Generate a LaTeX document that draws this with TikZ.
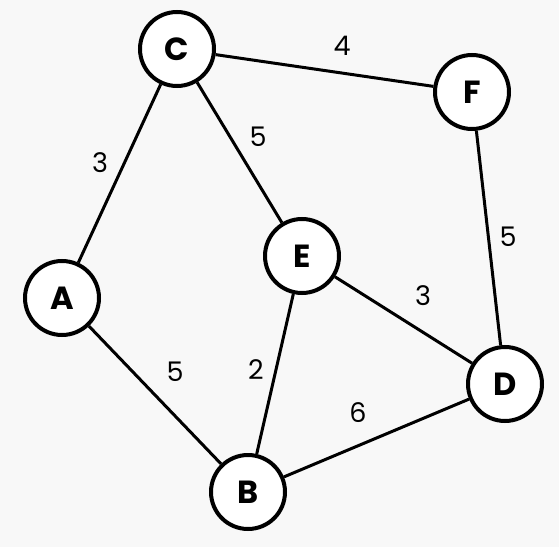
\documentclass[tikz,border=0pt]{standalone}
\usepackage{fontspec}
\setmainfont{Poppins}
\begin{document}
\begin{tikzpicture}[x=1pt,y=1pt,
  vertex/.style={circle,draw=black,line width=4pt,fill=white,minimum size=74pt,inner sep=0pt,font=\fontsize{32}{32}\selectfont\bfseries},
  edge/.style={line width=3pt},
  wlabel/.style={font=\fontsize{27}{27}\selectfont}]
\definecolor{bg}{RGB}{248,248,248}
\fill[bg] (0,0) rectangle (559,547);
\useasboundingbox (0,0) rectangle (559,547);
\node[vertex] (C) at (177,498) {C};
\node[vertex] (F) at (472,455) {F};
\node[vertex] (E) at (302,291) {E};
\node[vertex] (A) at (62,249) {A};
\node[vertex] (D) at (505,163) {D};
\node[vertex] (B) at (248,55) {B};
\draw[edge] (C) -- (F);
\draw[edge] (C) -- (A);
\draw[edge] (C) -- (E);
\draw[edge] (F) -- (D);
\draw[edge] (E) -- (D);
\draw[edge] (E) -- (B);
\draw[edge] (A) -- (B);
\draw[edge] (B) -- (D);
\node[wlabel] (l1) at (342,501) {4};
\node[wlabel] (l2) at (100,384) {3};
\node[wlabel] (l3) at (258,410) {5};
\node[wlabel] (l4) at (508,310) {5};
\node[wlabel] (l5) at (423,251) {3};
\node[wlabel] (l6) at (175,175) {5};
\node[wlabel] (l7) at (256,177) {2};
\node[wlabel] (l8) at (358,134) {6};
\end{tikzpicture}
\end{document}
